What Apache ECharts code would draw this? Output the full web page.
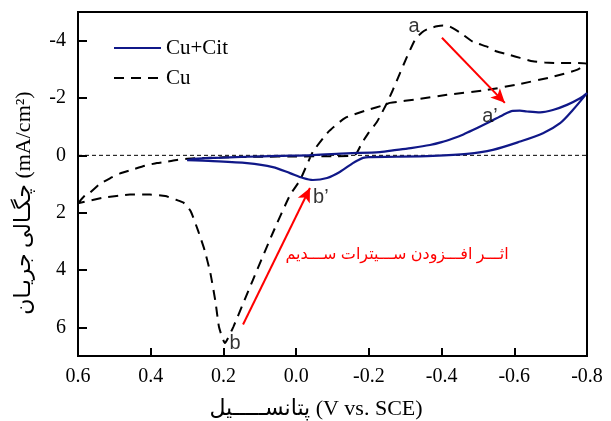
<!DOCTYPE html>
<html>
<head>
<meta charset="utf-8">
<script src="https://cdn.jsdelivr.net/npm/echarts@6/dist/echarts.min.js"></script>
<style>
  html, body { margin: 0; padding: 0; background: #fff; }
  #chart { width: 611px; height: 421px; }
</style>
</head>
<body>
<div id="chart"></div>
<script>
// Cyclic voltammograms: copper bath with and without sodium citrate.
// Potential in V vs. SCE, current density in mA/cm2 (cathodic plotted upward).

const yTickValues = [-4, -2, 0, 2, 4, 6];

// Cu (dashed): forward sweep toward negative potentials, then the return sweep.
const cuPotential = [
  0.60, 0.585, 0.567, 0.54, 0.512, 0.484, 0.451, 0.416, 0.383, 0.355, 0.328, 0.30,
  0.25, 0.20, 0.10, 0.00, -0.10, -0.15, -0.165, -0.181, -0.20, -0.222, -0.25, -0.266,
  -0.286, -0.305, -0.327, -0.345, -0.36, -0.387, -0.404, -0.423, -0.451, -0.486,
  -0.525, -0.552, -0.588, -0.616, -0.651, -0.684, -0.717, -0.753, -0.80,
  -0.772, -0.706, -0.616, -0.525, -0.415, -0.341, -0.258, -0.244, -0.195, -0.134,
  -0.088, -0.046, -0.011, 0.017, 0.064, 0.119, 0.173, 0.196, 0.212, 0.222, 0.236,
  0.252, 0.270, 0.290, 0.31, 0.328, 0.36, 0.402, 0.457, 0.531, 0.60
];
const cuCurrent = [
  1.67, 1.45, 1.30, 1.00, 0.80, 0.63, 0.50, 0.36, 0.27, 0.22, 0.16, 0.12,
  0.09, 0.07, 0.05, 0.04, 0.03, 0.02, -0.05, -0.43, -0.80, -1.16, -1.83, -2.28,
  -2.88, -3.44, -4.03, -4.28, -4.40, -4.50, -4.53, -4.49, -4.28, -3.96,
  -3.79, -3.62, -3.50, -3.40, -3.28, -3.24, -3.22, -3.22, -3.20,
  -2.98, -2.74, -2.49, -2.28, -2.11, -1.97, -1.83, -1.76, -1.58, -1.30,
  -0.81, -0.12, 0.86, 1.39, 2.70, 4.35, 5.99, 6.55, 6.00, 5.10, 4.10,
  3.30, 2.62, 1.95, 1.65, 1.56, 1.42, 1.37, 1.37, 1.48, 1.67
];

// Cu + citrate (solid blue)
const citPotential = [
  0.30, 0.28, 0.25, 0.20, 0.135, 0.05, -0.046, -0.14, -0.23, -0.277, -0.32, -0.368,
  -0.40, -0.431, -0.46, -0.486, -0.533, -0.569, -0.596, -0.615, -0.635, -0.671,
  -0.706, -0.745, -0.781, -0.80,
  -0.761, -0.726, -0.679, -0.616, -0.541, -0.47, -0.376, -0.277, -0.20, -0.184,
  -0.17, -0.156, -0.12, -0.085, -0.046, -0.019, 0.017, 0.064, 0.135, 0.229, 0.30
];
const citCurrent = [
  0.17, 0.12, 0.10, 0.08, 0.05, 0.02, -0.01, -0.07, -0.11, -0.19, -0.26, -0.36,
  -0.46, -0.59, -0.73, -0.88, -1.17, -1.41, -1.55, -1.56, -1.53, -1.50,
  -1.58, -1.76, -1.99, -2.17,
  -1.58, -1.12, -0.77, -0.48, -0.19, -0.05, 0.02, 0.05, 0.06, 0.09,
  0.17, 0.27, 0.58, 0.79, 0.86, 0.79, 0.62, 0.41, 0.27, 0.20, 0.17
];

// Peak labels
const peakNames = ['a', 'a\u2019', 'b', 'b\u2019'];
const peakPotential = [-0.324, -0.533, 0.168, -0.068];
const peakCurrent = [-4.49, -1.34, 6.56, 1.46];

// Red arrows: a -> a' and b -> b'
const arrowStartPotential = [-0.401, 0.146];
const arrowStartCurrent = [-4.10, 5.90];
const arrowEndPotential = [-0.574, -0.038];
const arrowEndCurrent = [-1.83, 1.14];

const zeroLinePotential = [0.6, -0.8];

const serif = 'Liberation Serif, "DejaVu Serif", "DejaVu Sans", serif';
const sans = 'Liberation Sans, "DejaVu Sans", sans-serif';

const pair = (xs, ys) => xs.map((x, i) => [x, ys[i]]);

const chart = echarts.init(document.getElementById('chart'), null, { renderer: 'canvas' });

chart.setOption({
  animation: false,
  backgroundColor: '#ffffff',
  grid: {
    left: 78, right: 24, top: 12, bottom: 65,
    show: true, borderColor: '#000', borderWidth: 2, backgroundColor: 'transparent'
  },
  xAxis: {
    type: 'value', inverse: true, min: -0.8, max: 0.6, interval: 0.2,
    axisLine: { show: true, onZero: false, lineStyle: { color: '#000', width: 2 } },
    axisTick: { show: true, inside: true, length: 8, lineStyle: { color: '#000', width: 2 } },
    axisLabel: {
      color: '#000', fontFamily: serif, fontSize: 20, margin: 11,
      showMinLabel: true, showMaxLabel: true,
      formatter: v => (Math.abs(v) < 1e-9 ? 0 : v).toFixed(1)
    },
    splitLine: { show: false }
  },
  yAxis: {
    type: 'value', inverse: true, min: -5, max: 7, interval: 1,
    axisLine: { show: true, onZero: false, lineStyle: { color: '#000', width: 2 } },
    axisTick: { show: true, inside: true, length: 9, customValues: yTickValues,
      lineStyle: { color: '#000', width: 2 } },
    axisLabel: {
      color: '#000', fontFamily: serif, fontSize: 20, margin: 12,
      customValues: yTickValues,
      formatter: v => String(Math.round(v))
    },
    splitLine: { show: false }
  },
  legend: {
    left: 113, top: 37, orient: 'vertical', itemGap: 8, padding: 0,
    itemWidth: 47, itemHeight: 14,
    data: ['Cu+Cit', 'Cu'],
    itemStyle: { color: 'transparent', borderColor: 'transparent', borderWidth: 0, opacity: 0 },
    textStyle: { color: '#000', fontFamily: serif, fontSize: 21, lineHeight: 22 }
  },
  graphic: [
    {
      type: 'text', x: 24, y: 203, rotation: Math.PI / 2,
      style: {
        text: 'چگـالی جریـان (mA/cm\u00B2)',
        fontFamily: serif, fontSize: 22, fill: '#000',
        align: 'center', verticalAlign: 'middle'
      }
    },
    {
      type: 'text', x: 316, y: 409,
      style: {
        text: 'پتانســـــیل (V vs. SCE)',
        fontFamily: serif, fontSize: 22, fill: '#000',
        align: 'center', verticalAlign: 'middle'
      }
    },
    {
      type: 'text', x: 397, y: 255,
      style: {
        text: 'اثـــر افـــزودن ســـیترات ســـدیم',
        fontFamily: sans, fontSize: 16, fill: '#ff0000',
        align: 'center', verticalAlign: 'middle'
      }
    }
  ],
  series: [
    {
      name: 'zero', type: 'line', showSymbol: false, symbol: 'none', silent: true,
      data: zeroLinePotential.map(x => [x, 0]),
      lineStyle: { color: '#000', width: 1, type: [4, 3] },
      z: 1
    },
    {
      name: 'Cu', type: 'line', symbol: 'none', smooth: 0.15,
      data: pair(cuPotential, cuCurrent),
      lineStyle: { color: '#000', width: 2, type: [10, 7] },
      itemStyle: { color: '#000' },
      z: 2
    },
    {
      name: 'Cu+Cit', type: 'line', symbol: 'none', smooth: 0.3,
      data: pair(citPotential, citCurrent),
      lineStyle: { color: '#101888', width: 2.2 },
      itemStyle: { color: '#101888' },
      z: 3,
      markLine: {
        silent: true, symbol: ['none', 'arrow'], symbolSize: [10, 14],
        label: { show: false },
        lineStyle: { color: '#ff0000', width: 2, type: 'solid' },
        data: arrowStartPotential.map((x, i) => [
          { coord: [x, arrowStartCurrent[i]] },
          { coord: [arrowEndPotential[i], arrowEndCurrent[i]] }
        ])
      }
    },
    {
      name: 'labels', type: 'scatter', symbolSize: 0, silent: true,
      data: peakNames.map((n, i) => ({ name: n, value: [peakPotential[i], peakCurrent[i]] })),
      label: {
        show: true, position: 'inside', formatter: p => p.name,
        color: '#000', fontFamily: sans, fontSize: 20
      },
      z: 4
    }
  ]
});
</script>
</body>
</html>
